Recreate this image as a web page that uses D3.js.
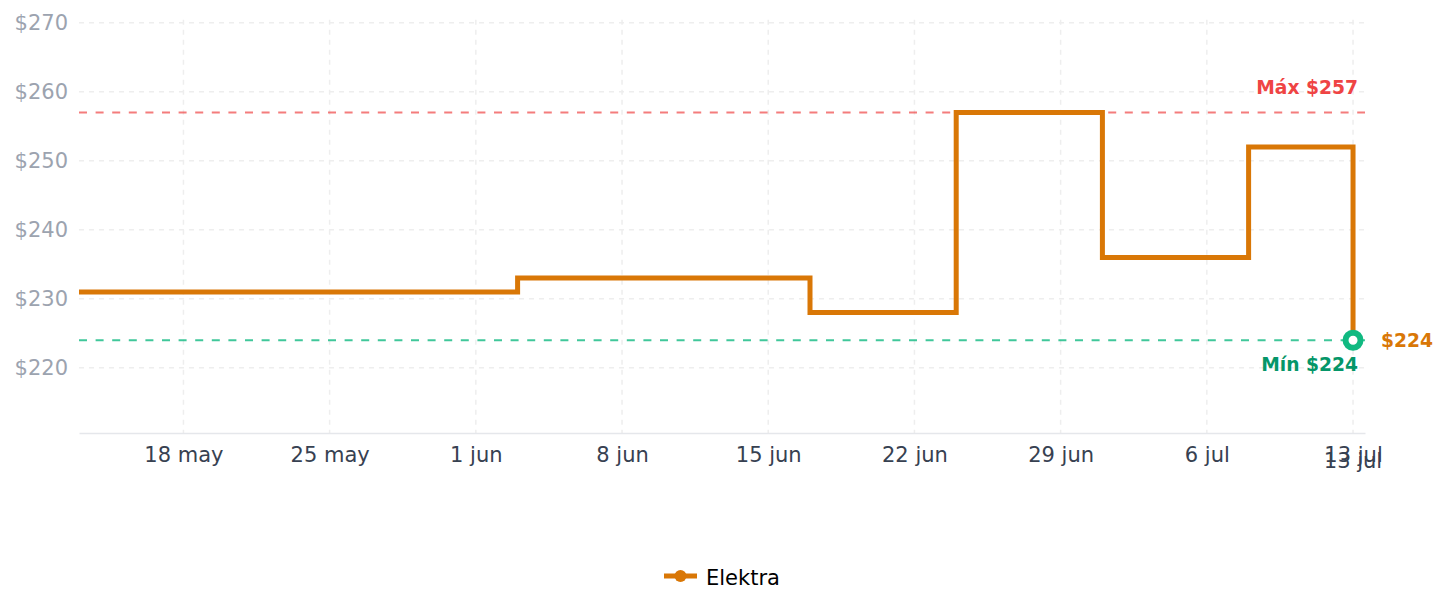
<!DOCTYPE html>
<html>
<head>
<meta charset="utf-8">
<script src="https://cdn.jsdelivr.net/npm/d3@7"></script>
<style>
  body { margin: 0; background: #fff; font-family: "DejaVu Sans", sans-serif; }
  svg { display: block; }
</style>
</head>
<body>
<div id="chart"></div>
<script>
// price history (step changes)
const changeDates = ["2025-05-13", "2025-06-03", "2025-06-17", "2025-06-24", "2025-07-01", "2025-07-08", "2025-07-13"];
const prices = [231, 233, 228, 257, 236, 252, 224];
const seriesName = "Elektra";

const tickDates = ["2025-05-18", "2025-05-25", "2025-06-01", "2025-06-08", "2025-06-15", "2025-06-22", "2025-06-29", "2025-07-06", "2025-07-13"];
const tickLabels = ["18 may", "25 may", "1 jun", "8 jun", "15 jun", "22 jun", "29 jun", "6 jul", "13 jul"];
const yTicks = [220, 230, 240, 250, 260, 270];

const W = 1447, H = 611;
const plot = { left: 79, right: 1365, top: 22.7, bottom: 433 };

const parse = d3.timeParse("%Y-%m-%d");
const data = changeDates.map((d, i) => ({ date: parse(d), price: prices[i] }));
const maxP = d3.max(prices), minP = d3.min(prices);
const last = data[data.length - 1];

const x = d3.scaleTime()
  .domain([parse("2025-05-13"), new Date(2025, 6, 13, 13, 45)])
  .range([plot.left, plot.right]);
const y = d3.scaleLinear()
  .domain([minP * 0.94, 270])
  .range([plot.bottom, plot.top]);

const svg = d3.select("#chart").append("svg")
  .attr("width", W).attr("height", H);

// grid
const grid = svg.append("g").attr("stroke", "#eeeeee").attr("stroke-width", 1.5).attr("stroke-dasharray", "5,5");
grid.selectAll(".hg").data(yTicks).enter().append("line")
  .attr("x1", plot.left).attr("x2", plot.right)
  .attr("y1", d => y(d)).attr("y2", d => y(d));
grid.selectAll(".vg").data(tickDates).enter().append("line")
  .attr("x1", d => x(parse(d))).attr("x2", d => x(parse(d)))
  .attr("y1", plot.top - 3).attr("y2", plot.bottom);

// x axis
const xAxis = svg.append("g")
  .attr("transform", `translate(0,${plot.bottom})`)
  .call(d3.axisBottom(x)
    .tickValues(tickDates.map(parse))
    .tickFormat((d, i) => tickLabels[i])
    .tickSize(0).tickPadding(14));
xAxis.select(".domain").attr("stroke", "#e5e7eb").attr("stroke-width", 1.5);
xAxis.selectAll("text").attr("fill", "#374151").style("font-size", "21px").style("font-family", "DejaVu Sans");

// extra end label (overlaps last tick, as in the source chart)
svg.append("text")
  .attr("x", x(last.date)).attr("y", 468)
  .attr("text-anchor", "middle")
  .attr("fill", "#374151")
  .style("font-size", "21px")
  .text(tickLabels[tickLabels.length - 1]);

// y axis
const yAxis = svg.append("g")
  .attr("transform", `translate(${plot.left},0)`)
  .call(d3.axisLeft(y).tickValues(yTicks).tickFormat(d => "$" + d).tickSize(0).tickPadding(11));
yAxis.select(".domain").remove();
yAxis.selectAll("text").attr("fill", "#9ca3af").style("font-size", "21px").style("font-family", "DejaVu Sans");

// max / min reference lines
svg.append("line")
  .attr("x1", plot.left).attr("x2", plot.right)
  .attr("y1", y(maxP)).attr("y2", y(maxP))
  .attr("stroke", "#ef4444").attr("stroke-opacity", 0.7)
  .attr("stroke-width", 2).attr("stroke-dasharray", "8,8.6");
svg.append("line")
  .attr("x1", plot.left).attr("x2", plot.right)
  .attr("y1", y(minP)).attr("y2", y(minP))
  .attr("stroke", "#10b981").attr("stroke-opacity", 0.8)
  .attr("stroke-width", 2).attr("stroke-dasharray", "8,8.6");

svg.append("text")
  .attr("x", x(last.date) + 5).attr("y", y(maxP) - 18)
  .attr("text-anchor", "end")
  .attr("fill", "#ef4444").style("font-size", "18.7px").style("font-weight", "bold")
  .text("Máx $" + maxP);
svg.append("text")
  .attr("x", x(last.date) + 5).attr("y", y(minP) + 31)
  .attr("text-anchor", "end")
  .attr("fill", "#059669").style("font-size", "18.7px").style("font-weight", "bold")
  .text("Mín $" + minP);

// price line
const line = d3.line()
  .curve(d3.curveStepAfter)
  .x(d => x(d.date))
  .y(d => y(d.price));
svg.append("path")
  .datum(data)
  .attr("fill", "none")
  .attr("stroke", "#d97706")
  .attr("stroke-width", 5)
  .attr("d", line);

// last point
svg.append("circle")
  .attr("cx", x(last.date)).attr("cy", y(last.price))
  .attr("r", 7.5)
  .attr("fill", "#fff").attr("stroke", "#10b981").attr("stroke-width", 6);
svg.append("text")
  .attr("x", x(last.date) + 28).attr("y", y(last.price) + 7)
  .attr("fill", "#d97706").style("font-size", "18.7px").style("font-weight", "bold")
  .text("$" + last.price);

// legend
const lg = svg.append("g").attr("transform", "translate(664,576)");
lg.append("line").attr("x1", 0).attr("x2", 33).attr("stroke", "#d97706").attr("stroke-width", 5);
lg.append("circle").attr("cx", 16.5).attr("r", 6).attr("fill", "#d97706");
lg.append("text").attr("x", 42).attr("y", 9).attr("fill", "#000").style("font-size", "21px").text(seriesName);
</script>
</body>
</html>
